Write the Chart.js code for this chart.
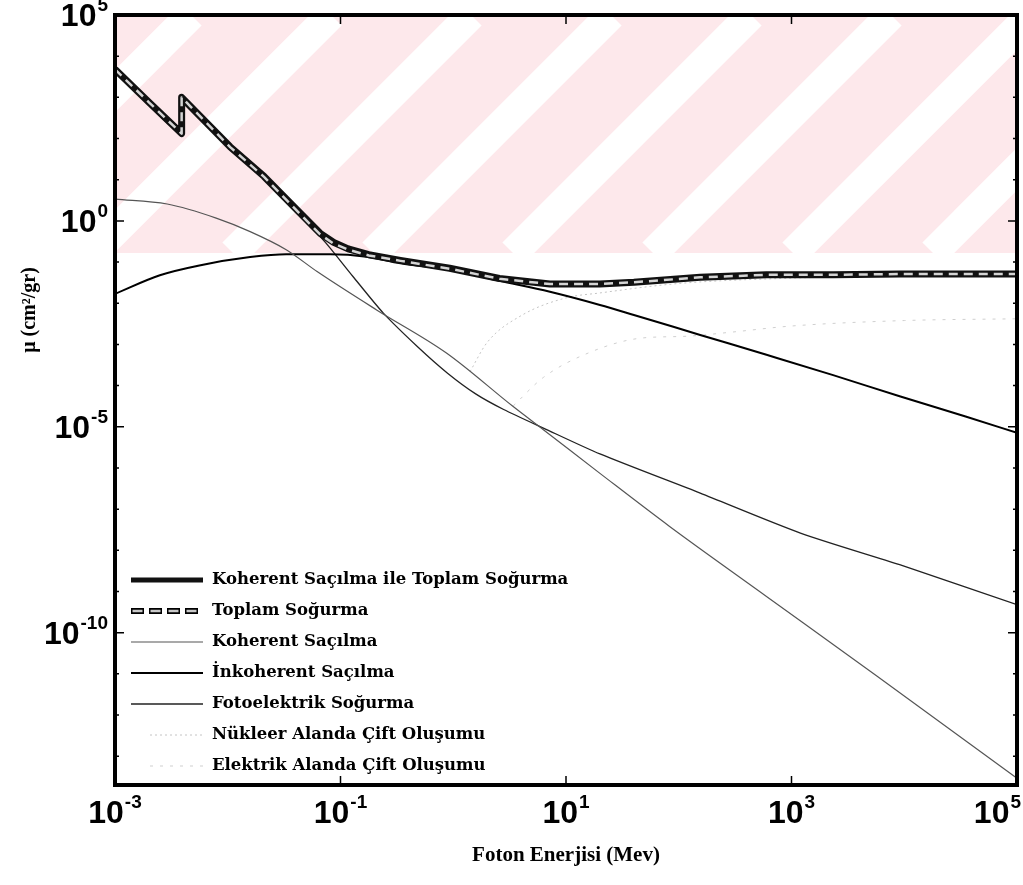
<!DOCTYPE html>
<html>
<head>
<meta charset="utf-8">
<script src="https://cdn.jsdelivr.net/npm/chart.js@4.4.1/dist/chart.umd.min.js"></script>
<style>
  html, body { margin: 0; padding: 0; background: #fff; }
  #wrap { width: 1023px; height: 885px; position: relative; }
</style>
</head>
<body>
<div id="wrap"><canvas id="chart"></canvas></div>
<script>
// --- Veriler (enerji MeV, mu cm2/gr) ---
const totalCohEnergy = [1e-3, 2.0e-3, 3.9e-3, 3.9e-3, 4.7e-3, 1.05e-2, 2.1e-2, 4.1e-2, 6.6e-2, 8.7e-2, 0.117, 0.178, 0.34, 0.93, 2.57, 7.2, 20, 40, 155, 600, 2340, 9100, 1e5];
const totalCohMu = [4800, 760, 132, 1000, 590, 63, 12, 1.86, 0.50, 0.30, 0.209, 0.151, 0.110, 0.0708, 0.0398, 0.0295, 0.0295, 0.0324, 0.0427, 0.049, 0.049, 0.0513, 0.0513];

const totalEnergy = totalCohEnergy;
const totalMu = [4790, 758, 131, 998, 588, 62, 11.7, 1.78, 0.47, 0.28, 0.200, 0.145, 0.107, 0.069, 0.0392, 0.0293, 0.0294, 0.0323, 0.0426, 0.049, 0.049, 0.0513, 0.0513];

const cohEnergy = [1e-3, 2.9e-3, 7.9e-3, 1.58e-2, 3.3e-2, 6.2e-2, 0.209, 0.87, 3.4, 6.3, 20, 83, 600, 5750, 1e5];
const cohMu = [3.39, 2.57, 1.17, 0.55, 0.20, 0.0589, 6.9e-3, 6.2e-4, 3.1e-5, 8.5e-6, 7.4e-7, 3.8e-8, 7.6e-10, 8.7e-12, 2.9e-14];

const incohEnergy = [1e-3, 2.5e-3, 5.6e-3, 1.58e-2, 3.3e-2, 8.1e-2, 0.17, 0.34, 0.93, 2.57, 7.2, 20, 40, 155, 600, 2340, 9100, 3.5e4, 1e5];
const incohMu = [0.017, 0.048, 0.083, 0.132, 0.155, 0.155, 0.135, 0.093, 0.065, 0.035, 0.019, 9.1e-3, 5.2e-3, 1.7e-3, 5.6e-4, 1.8e-4, 5.5e-5, 1.78e-5, 7.1e-6];

const photoEnergy = [1e-3, 3.9e-3, 3.9e-3, 1.05e-2, 2.1e-2, 4.1e-2, 6.6e-2, 8.1e-2, 0.129, 0.24, 0.48, 0.89, 1.58, 2.8, 6.3, 20, 155, 1200, 9100, 1e5];
const photoMu = [4570, 126, 977, 60, 11.2, 1.66, 0.417, 0.219, 0.0447, 5.75e-3, 8.9e-4, 2.0e-4, 6.3e-5, 2.63e-5, 9.3e-6, 2.19e-6, 2.45e-7, 2.63e-8, 4.47e-9, 4.8e-10];

const pairNucEnergy = [1.41, 2.0, 4.0, 10, 20, 100, 1000, 1e4, 1e5];
const pairNucMu = [2.2e-4, 1.12e-3, 5.0e-3, 0.0135, 0.0178, 0.0302, 0.0407, 0.0457, 0.0479];

const pairElEnergy = [3.4, 6.3, 16, 45, 117, 300, 1000, 1e4, 1e5];
const pairElMu = [3.2e-5, 1.58e-4, 6.3e-4, 1.41e-3, 1.58e-3, 2.0e-3, 2.8e-3, 3.8e-3, 4.2e-3];

// --- Eksen etiketleri ---
const xTickExps = ['-3', '-1', '1', '3', '5'];
const yTickExps = ['5', '0', '-5', '-10'];
const xTitle = 'Foton Enerjisi (Mev)';
const yTitle = 'μ (cm²/gr)';

const FONT_SANS = '"Liberation Sans", Arial, sans-serif';
const FONT_SERIF = '"Liberation Serif", "Times New Roman", serif';
const FONT_LEGEND = '"DejaVu Serif", serif';
const WM_HEIGHT = 238; // filigran bandının yüksekliği
const LEGEND_TOP = 580;
const LEGEND_STEP = 31;

function pts(xs, ys) {
    return xs.map((x, i) => ({ x: x, y: ys[i] }));
}

// 10^n seklinde etiket
function drawPow(ctx, exp, x, y, align) {
    ctx.font = 'bold 32px ' + FONT_SANS;
    const w1 = ctx.measureText('10').width;
    ctx.font = 'bold 19px ' + FONT_SANS;
    const w2 = ctx.measureText(exp).width + 1;
    let start;
    if (align === 'center') start = Math.min(x - (w1 + w2) / 2, 1021 - w1 - w2);
    else start = x - w1 - w2;
    ctx.textAlign = 'left';
    ctx.textBaseline = 'alphabetic';
    ctx.fillStyle = '#000';
    ctx.font = 'bold 32px ' + FONT_SANS;
    ctx.fillText('10', start, y);
    ctx.font = 'bold 19px ' + FONT_SANS;
    ctx.fillText(exp, start + w1 + 1, y - 15);
}

const axisPlugin = {
    id: 'axisPlugin',
    beforeDatasetsDraw(chart) {
        const { ctx, chartArea: a } = chart;
        // soluk pembe filigran
        ctx.save();
        ctx.beginPath();
        ctx.rect(a.left, a.top, a.width, WM_HEIGHT);
        ctx.clip();
        ctx.fillStyle = '#fde8eb';
        ctx.fillRect(a.left, a.top, a.width, WM_HEIGHT);
        ctx.strokeStyle = '#fff';
        ctx.lineWidth = 30;
        for (let d = -302; d < a.width + 50; d += 140) {
            ctx.beginPath();
            ctx.moveTo(a.left + d, a.top + WM_HEIGHT);
            ctx.lineTo(a.left + d + WM_HEIGHT, a.top);
            ctx.stroke();
        }
        ctx.restore();
    },
    afterDatasetsDraw(chart) {
        const { ctx, chartArea: a, scales } = chart;
        const xs = scales.x, ys = scales.y;
        ctx.save();
        // kutu
        ctx.strokeStyle = '#000';
        ctx.lineWidth = 4;
        ctx.strokeRect(a.left, a.top, a.right - a.left, a.bottom - a.top);

        // y tikleri
        ctx.lineWidth = 1.5;
        for (let e = -13; e <= 4; e++) {
            const y = ys.getPixelForValue(Math.pow(10, e));
            const len = yTickExps.includes(String(e)) ? 9 : 4;
            ctx.beginPath();
            ctx.moveTo(a.left, y); ctx.lineTo(a.left + len, y);
            ctx.moveTo(a.right, y); ctx.lineTo(a.right - len, y);
            ctx.stroke();
        }
        // x tikleri
        xTickExps.forEach(e => {
            const x = xs.getPixelForValue(Math.pow(10, +e));
            ctx.beginPath();
            ctx.moveTo(x, a.bottom); ctx.lineTo(x, a.bottom - 9);
            ctx.moveTo(x, a.top); ctx.lineTo(x, a.top + 9);
            ctx.stroke();
        });

        // etiketler
        xTickExps.forEach(e => {
            drawPow(ctx, e, xs.getPixelForValue(Math.pow(10, +e)), a.bottom + 38, 'center');
        });
        yTickExps.forEach(e => {
            drawPow(ctx, e, a.left - 7, ys.getPixelForValue(Math.pow(10, +e)) + 11, 'right');
        });

        // eksen basliklari
        ctx.fillStyle = '#000';
        ctx.textAlign = 'center';
        ctx.textBaseline = 'middle';
        ctx.font = 'bold 21px ' + FONT_SERIF;
        ctx.fillText(xTitle, (a.left + a.right) / 2, 856);
        ctx.save();
        ctx.translate(30, 310);
        ctx.rotate(-Math.PI / 2);
        ctx.font = 'bold 20px ' + FONT_SERIF;
        ctx.fillText(yTitle, 0, 0);
        ctx.restore();

        // lejant
        ctx.textAlign = 'left';
        ctx.textBaseline = 'middle';
        ctx.font = 'bold 16.5px ' + FONT_LEGEND;
        chart.data.datasets.forEach((ds, i) => {
            const y = LEGEND_TOP + i * LEGEND_STEP;
            const x0 = i >= 5 ? 150 : 131;
            const x1 = 203;
            if (i === 1) {
                ctx.setLineDash([13, 5]);
                ctx.strokeStyle = '#000';
                ctx.lineWidth = 6;
                ctx.beginPath(); ctx.moveTo(x0, y); ctx.lineTo(x1, y); ctx.stroke();
                ctx.strokeStyle = '#c8c8c8';
                ctx.lineWidth = 2.5;
                ctx.lineDashOffset = -1.5;
                ctx.setLineDash([10, 8]);
                ctx.beginPath(); ctx.moveTo(x0, y); ctx.lineTo(x1, y); ctx.stroke();
                ctx.lineDashOffset = 0;
            } else {
                ctx.setLineDash(ds.borderDash || []);
                ctx.strokeStyle = ds.borderColor;
                ctx.lineWidth = i === 0 ? 5 : ds.borderWidth;
                ctx.beginPath(); ctx.moveTo(x0, y); ctx.lineTo(x1, y); ctx.stroke();
            }
            ctx.setLineDash([]);
            ctx.fillStyle = '#000';
            ctx.fillText(ds.label, 212, y);
        });
        ctx.restore();
    }
};

const baseLine = { pointRadius: 0, fill: false, borderJoinStyle: 'round' };

const chart = new Chart(document.getElementById('chart'), {
    type: 'line',
    data: {
        datasets: [
            Object.assign({ label: 'Koherent Saçılma ile Toplam Soğurma', data: pts(totalCohEnergy, totalCohMu),
                borderColor: '#111', borderWidth: 7, tension: 0, order: 3 }, baseLine),
            Object.assign({ label: 'Toplam Soğurma', data: pts(totalEnergy, totalMu),
                borderColor: '#d4d4d4', borderWidth: 2.5, borderDash: [9, 6], tension: 0, order: 1 }, baseLine),
            Object.assign({ label: 'Koherent Saçılma', data: pts(cohEnergy, cohMu),
                borderColor: '#555', borderWidth: 1.2, cubicInterpolationMode: 'monotone', order: 4 }, baseLine),
            Object.assign({ label: 'İnkoherent Saçılma', data: pts(incohEnergy, incohMu),
                borderColor: '#000', borderWidth: 2, cubicInterpolationMode: 'monotone', order: 4 }, baseLine),
            Object.assign({ label: 'Fotoelektrik Soğurma', data: pts(photoEnergy, photoMu),
                borderColor: '#222', borderWidth: 1.3, tension: 0.25, order: 4 }, baseLine),
            Object.assign({ label: 'Nükleer Alanda Çift Oluşumu', data: pts(pairNucEnergy, pairNucMu),
                borderColor: '#c4c4c4', borderWidth: 1, borderDash: [2, 3], cubicInterpolationMode: 'monotone', order: 5 }, baseLine),
            Object.assign({ label: 'Elektrik Alanda Çift Oluşumu', data: pts(pairElEnergy, pairElMu),
                borderColor: '#cfcfcf', borderWidth: 1, borderDash: [3, 7], cubicInterpolationMode: 'monotone', order: 5 }, baseLine)
        ]
    },
    options: {
        responsive: true,
        maintainAspectRatio: false,
        animation: false,
        devicePixelRatio: 1,
        layout: { padding: { left: 115, top: 15, right: 6, bottom: 100 } },
        scales: {
            x: { type: 'logarithmic', min: 1e-3, max: 1e5, display: false },
            y: { type: 'logarithmic', min: 2e-14, max: 1e5, display: false }
        },
        plugins: {
            legend: { display: false },
            tooltip: { enabled: false }
        }
    },
    plugins: [axisPlugin]
});
</script>
</body>
</html>
